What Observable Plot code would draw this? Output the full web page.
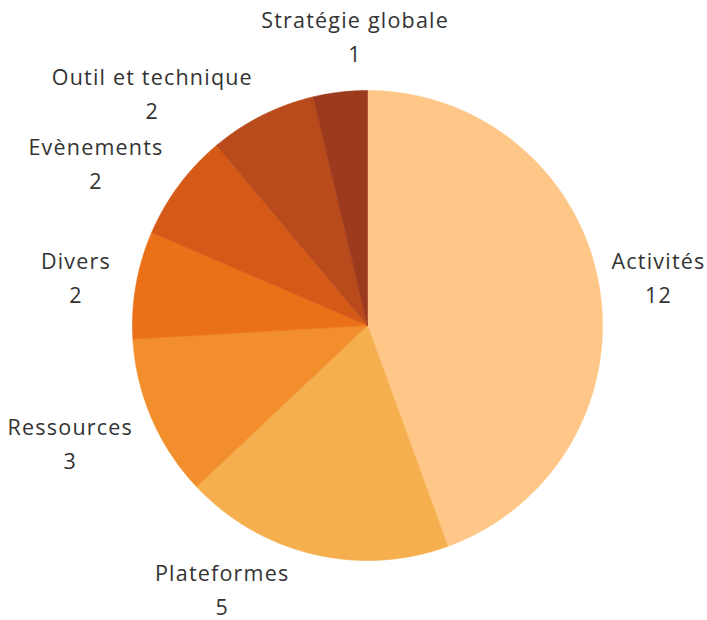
<!DOCTYPE html>
<html><head><meta charset="utf-8">
<script src="https://cdn.jsdelivr.net/npm/d3@7"></script>
<script src="https://cdn.jsdelivr.net/npm/@observablehq/plot@0.6"></script>
<style>body{margin:0;background:#fff;} svg text{letter-spacing:1.2px;}</style>
</head><body><div id="chart"></div>
<script>
const categories = ["Activités","Plateformes","Ressources","Divers","Evènements","Outil et technique","Stratégie globale"];
const values = [12, 5, 3, 2, 2, 2, 1];
const colors = ["#FEC787","#F5AF4E","#F28E2C","#EB7119","#D55A17","#B94A1C","#9C3A1D"];

const W = 707, H = 620, mL = 132, mR = 105, mT = 90, mB = 60;
const R = (W - mL - mR) / 2;
const CX = mL + R, CY = mT + R;
const FS = 21.5, FONT = "'Open Sans', sans-serif", LH = 34, LS = 1.2;

const pie = d3.pie().sort(null).value(d => d.value)(categories.map((name, i) => ({name, value: values[i]})));

const pts = [];
pie.forEach(p => {
  const name = p.data.name;
  const n = Math.max(4, Math.ceil((p.endAngle - p.startAngle) / (Math.PI / 360)));
  pts.push({name, x: 0, y: 0});
  for (let k = 0; k <= n; k++) {
    const a = p.startAngle + (p.endAngle - p.startAngle) * k / n;
    pts.push({name, x: Math.sin(a), y: Math.cos(a)});
  }
  pts.push({name, x: 0, y: 0});
});

// label layout (pixel units relative to centre, y up)
const ctx = document.createElement("canvas").getContext("2d");
ctx.font = `${FS}px ${FONT}`;
const gap = 26, halfH = 31, pad = 4, edge = 2;
const labels = pie.map(p => {
  const span = p.endAngle - p.startAngle, m = Math.min(0.035, span / 4);
  return {
    name: p.data.name, value: p.data.value,
    a: (p.startAngle + p.endAngle) / 2,
    lo: p.startAngle + m, hi: p.endAngle - m,
    w: (ctx.measureText(p.data.name).width + LS * p.data.name.length) / 2
  };
});
function place(l) {
  const ux = Math.sin(l.a), uy = Math.cos(l.a);
  l.cx = (R + gap) * ux + l.w * ux;
  l.cy = (R + gap) * uy + halfH * uy;
  l.cx = Math.max(-(CX - edge - l.w), Math.min(W - CX - edge - l.w, l.cx));
}
function overlap(A, B) {
  return Math.abs(A.cx - B.cx) < A.w + B.w + 2 * pad && Math.abs(A.cy - B.cy) < 2 * halfH + 2 * pad;
}
const step = 0.002;
for (let it = 0; it < 4000; it++) {
  labels.forEach(place);
  let moved = false;
  for (let i = 0; i < labels.length; i++) {
    const A = labels[i], B = labels[(i + 1) % labels.length];
    if (overlap(A, B)) { A.a -= step; B.a += step; moved = true; }
  }
  for (const l of labels) {
    const bottom = CY - l.cy + halfH, top = CY - l.cy - halfH;
    if (bottom > H - edge) { l.a += (l.a > Math.PI ? step : -step); moved = true; }
    if (top < edge) { l.a += (l.a > Math.PI ? -step : step); moved = true; }
    l.a = Math.max(l.lo, Math.min(l.hi, l.a));
  }
  if (!moved) break;
}
labels.forEach(place);
labels.forEach(l => { l.x = l.cx / R; l.y = l.cy / R; });

const chart = Plot.plot({
  width: W, height: H,
  marginLeft: mL, marginRight: mR, marginTop: mT, marginBottom: mB,
  x: {domain: [-1, 1], axis: null},
  y: {domain: [-1, 1], axis: null},
  color: {domain: categories, range: colors},
  style: {fontFamily: FONT, background: "#fff", overflow: "visible"},
  marks: [
    Plot.line(pts, {x: "x", y: "y", z: "name", fill: "name", stroke: "name", strokeWidth: 0.6}),
    Plot.text(labels, {x: "x", y: "y", text: d => d.name + "\n" + d.value, fontSize: FS, lineHeight: LH / FS, fill: "#333", fontFamily: FONT})
  ]
});
document.getElementById("chart").appendChild(chart);
</script>
</body></html>
